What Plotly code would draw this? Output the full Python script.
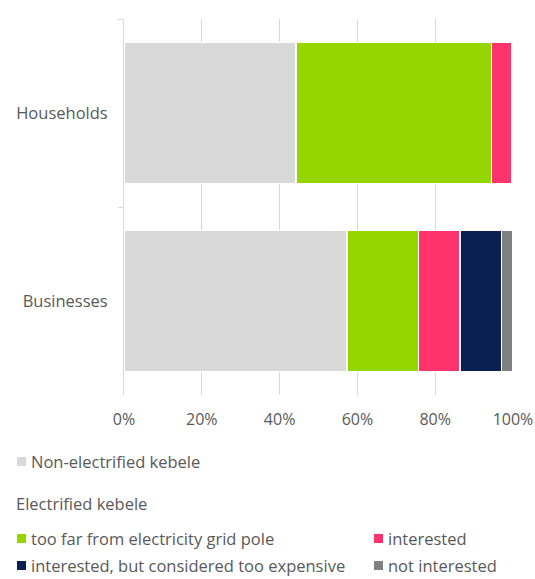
import plotly.graph_objects as go

# Share of respondents (%) by group, stacked left to right
categories = ["Households", "Businesses"]
series_names = [
    "Non-electrified kebele",
    "too far from electricity grid pole",
    "interested",
    "interested, but considered too expensive",
    "not interested",
]
non_electrified = [44.2, 57.3]
too_far = [50.3, 18.4]
interested = [5.1, 10.7]
too_expensive = [0.0, 10.7]
not_interested = [0.0, 2.9]
series_values = [non_electrified, too_far, interested, too_expensive, not_interested]
colors = ["#d9d9d9", "#96d600", "#ff346c", "#0a1f52", "#808080"]

tick_vals = [0, 20, 40, 60, 80, 100]
tick_text = ["0%", "20%", "40%", "60%", "80%", "100%"]

W, H = 535, 579
L, R, T, B = 124, 22, 19, 184
FONT = "Open Sans"
TXT = "#595959"

fig = go.Figure()
for name, vals, col in zip(series_names, series_values, colors):
    fig.add_trace(go.Bar(
        y=categories, x=vals, name=name, orientation="h",
        marker=dict(color=col, line=dict(color="white", width=1.5)),
        showlegend=False, hoverinfo="name+x",
    ))

# pixel -> paper helpers for the legend block under the chart
pw, ph = W - L - R, H - T - B
def px(x):
    return (x - L) / pw
def py(y):
    return (H - B - y) / ph

annotations = []
shapes = []
LEG_SIZE = 16.5

def legend_item(x_sq, y_mid, color, label):
    shapes.append(dict(type="rect", xref="paper", yref="paper",
                       x0=px(x_sq), x1=px(x_sq + 9), y0=py(y_mid + 5), y1=py(y_mid - 4),
                       fillcolor=color, line=dict(width=0)))
    annotations.append(dict(xref="paper", yref="paper", x=px(x_sq + 12), y=py(y_mid),
                            xanchor="left", yanchor="middle", showarrow=False,
                            text=label, font=dict(family=FONT, size=LEG_SIZE, color=TXT)))

legend_item(17, 461, colors[0], series_names[0])
annotations.append(dict(xref="paper", yref="paper", x=px(14), y=py(504),
                        xanchor="left", yanchor="middle", showarrow=False,
                        text="Electrified kebele", font=dict(family=FONT, size=LEG_SIZE, color=TXT)))
legend_item(17, 538, colors[1], series_names[1])
legend_item(374, 538, colors[2], series_names[2])
legend_item(17, 565, colors[3], series_names[3])
legend_item(374, 565, colors[4], series_names[4])

fig.update_layout(
    barmode="stack",
    bargap=0.25,
    width=W, height=H,
    margin=dict(l=L, r=R, t=T, b=B, pad=0, autoexpand=False),
    paper_bgcolor="white", plot_bgcolor="white",
    font=dict(family=FONT, size=16, color=TXT),
    annotations=annotations,
    shapes=shapes,
    xaxis=dict(
        range=[0, 100], tickvals=tick_vals, ticktext=tick_text,
        showgrid=True, gridcolor="#d9d9d9", gridwidth=1,
        zeroline=False, showline=False, ticks="",
        tickfont=dict(family=FONT, size=16, color=TXT),
        ticklabelstandoff=13, automargin=False,
    ),
    yaxis=dict(
        autorange="reversed", showline=True, linecolor="#d9d9d9", linewidth=1,
        ticks="outside", tickson="boundaries", ticklen=5, tickcolor="#d9d9d9",
        tickfont=dict(family=FONT, size=16.5, color=TXT),
        ticklabelstandoff=12, automargin=False,
    ),
)

fig.write_html("out.html")
